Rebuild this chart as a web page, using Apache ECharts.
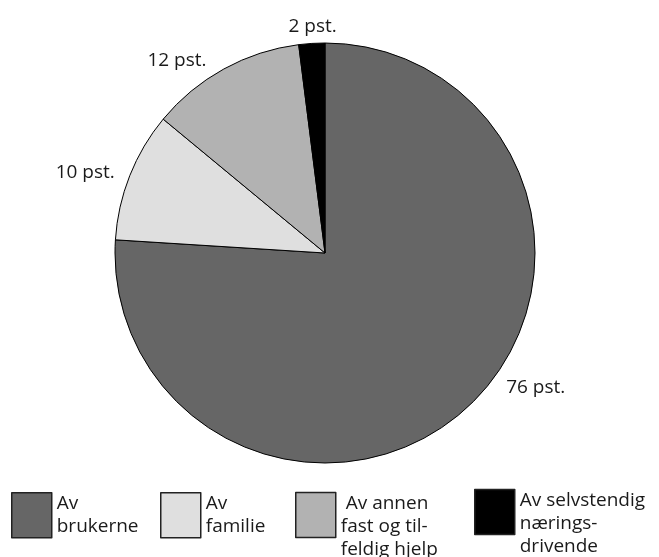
<!DOCTYPE html>
<html>
<head>
<meta charset="utf-8">
<script src="https://cdn.jsdelivr.net/npm/echarts@6/dist/echarts.min.js"></script>
<style>
html,body{margin:0;padding:0;background:#fff;}
#chart{width:659px;height:557px;}
</style>
</head>
<body>
<div id="chart"></div>
<script>
// Data
const categories = ['Av brukerne', 'Av familie', 'Av annen fast og tilfeldig hjelp', 'Av selvstendig næringsdrivende'];
const values = [76, 10, 12, 2];
const valueLabels = ['76 pst.', '10 pst.', '12 pst.', '2 pst.'];
const legendTexts = ['Av\nbrukerne', 'Av\nfamilie', '\n Av annen\nfast og til-\nfeldig hjelp', '\nAv selvstendig\nnærings-\ndrivende'];

const colors = ['#666666', '#dfdfdf', '#b2b2b2', '#000000'];
const FONT = '"Open Sans", sans-serif';

// label nudges (style only)
const labelNudge = [[43, -44], [-12, 10], [-30, 22], [3, 18]];

const chart = echarts.init(document.getElementById('chart'), null, {renderer: 'canvas'});

const legendPos = [
  {left: 11, top: 492},
  {left: 160, top: 492},
  {left: 295, top: 469},
  {left: 474, top: 466}
];

const legends = categories.map((c, i) => ({
  data: [c],
  left: legendPos[i].left,
  top: legendPos[i].top,
  padding: 0,
  orient: 'vertical',
  icon: 'rect',
  itemWidth: 40,
  itemHeight: 45,
  selectedMode: false,
  itemStyle: {borderColor: '#222', borderWidth: 1.5},
  formatter: () => legendTexts[i],
  textStyle: {
    fontFamily: FONT, fontSize: 19, lineHeight: 23, color: '#1a1a1a'
  }
}));

chart.setOption({
  animation: false,
  backgroundColor: '#fff',
  color: colors,
  legend: legends,
  series: [{
    type: 'pie',
    center: [325, 253],
    radius: [0, 210],
    startAngle: 90,
    clockwise: true,
    avoidLabelOverlap: false,
    itemStyle: {borderColor: '#000', borderWidth: 1},
    label: {
      show: true,
      position: 'outside',
      fontFamily: FONT,
      fontSize: 19,
      color: '#1a1a1a',
      distanceToLabelLine: 0,
      formatter: p => valueLabels[p.dataIndex]
    },
    labelLine: {show: false, length: 35, length2: 0},
    labelLayout: function (p) {
      const n = labelNudge[p.dataIndex];
      return {align: 'center', verticalAlign: 'middle', dx: n[0], dy: n[1]};
    },
    emphasis: {disabled: true},
    data: categories.map((c, i) => ({name: c, value: values[i]}))
  }]
});
</script>
</body>
</html>
